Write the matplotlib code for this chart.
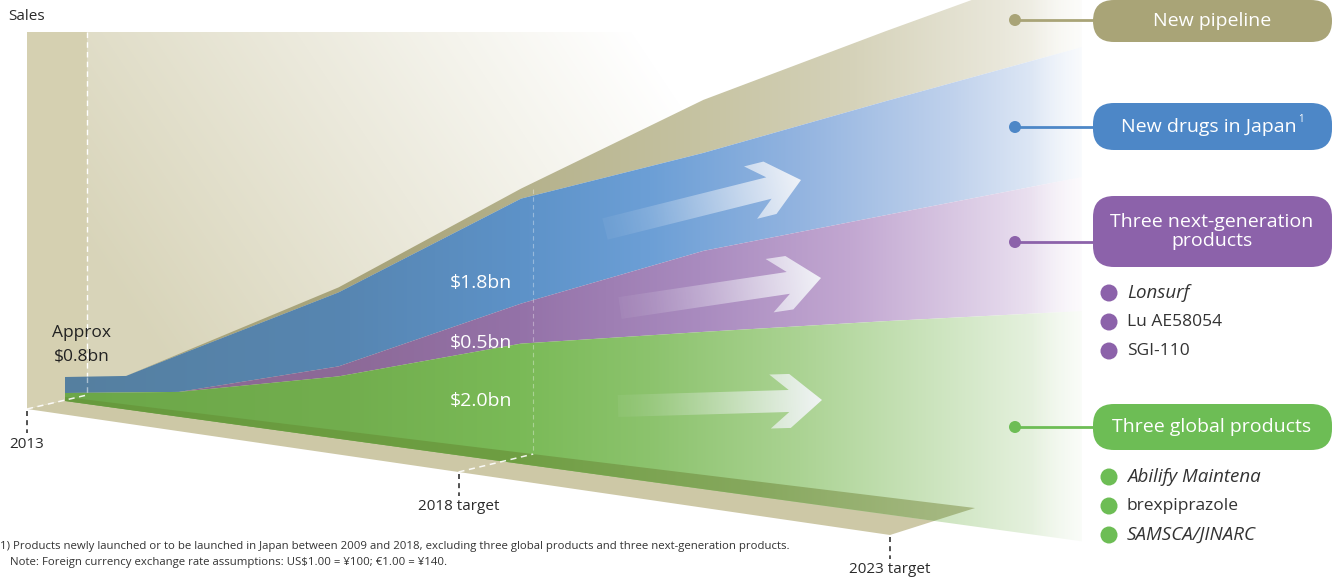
import numpy as np
import matplotlib.pyplot as plt
from matplotlib.patches import Polygon, FancyBboxPatch, Circle
from matplotlib.colors import to_rgb

plt.rcParams['font.family'] = ['Open Sans', 'DejaVu Sans']

# stacked sales layers (chart height units)
years = [2013, 2013.67, 2014.25, 2016, 2018, 2020, 2022, 2024.15]
global_products = [4, 12, 19, 54, 109, 143, 176, 210]
next_generation = [0, 0, 0, 10, 40, 81, 106, 134]
new_drugs_japan = [16, 16.5, 37, 74, 105, 98, 114, 130]
new_pipeline = [0, 0, 1, 5, 10, 53, 70, 87]

value_labels = ['$2.0bn', '$0.5bn', '$1.8bn']
axis_years = [2013, 2018, 2023]
axis_labels = ['2013', '2018 target', '2023 target']
layer_names = ['New pipeline', 'New drugs in Japan',
               'Three next-generation\nproducts', 'Three global products']
next_gen_products = ['Lonsurf', 'Lu AE58054', 'SGI-110']
global_product_names = ['Abilify Maintena', 'brexpiprazole', 'SAMSCA/JINARC']

W, H = 1337, 584
fig = plt.figure(figsize=(W / 100, H / 100), dpi=100)
ax = fig.add_axes([0, 0, 1, 1])


# perspective: stack front, floor front edge, back wall
def stack_x(yr):
    return 65 + (np.asarray(yr, float) - 2013) * 91.2


def base_y(x):
    return 397 + (np.asarray(x, float) - 65) * 0.122


def strip_y(x):
    return base_y(x) + 4 + (np.asarray(x, float) - 65) * 0.016


def front_pt(yr):
    x = 27 + (yr - 2013) * 86.3
    return x, 409 + (x - 27) * 0.146


def back_x(yr):
    return 87 + (yr - 2013) * 89.2


def ramp(stops, fade=True):
    xs = [s[0] for s in stops]
    cs = np.array([to_rgb(s[1]) for s in stops])

    def f(X, Y):
        img = np.ones(X.shape + (4,))
        for k in range(3):
            img[..., k] = np.interp(X, xs, cs[:, k])
        if fade:
            img[..., 3] = np.interp(X, [1030, 1082], [1, 0.35])
        return img
    return f


def shade(verts, fn, z):
    verts = np.asarray(verts, float)
    x0, y0 = np.floor(verts.min(0))
    x1, y1 = np.ceil(verts.max(0))
    X, Y = np.meshgrid(np.arange(x0, x1 + 1) + 0.5, np.arange(y0, y1 + 1) + 0.5)
    im = ax.imshow(fn(X, Y), extent=(x0, x1 + 1, y1 + 1, y0), origin='upper',
                   zorder=z, interpolation='bilinear', aspect='auto')
    p = Polygon(verts, closed=True, facecolor='none', edgecolor='none')
    ax.add_patch(p)
    im.set_clip_path(p)


# back wall
wall = np.array(to_rgb('#d8d4b9'))


def wall_fn(X, Y):
    img = np.ones(X.shape + (4,))
    img[..., :3] = wall
    img[..., 3] = np.clip(1.15 - ((X - 87) * 0.9 + (400 - Y) * 0.6) / 620, 0, 1)
    return img


shade([(87, 32), (1080, 32), (1080, 520), (87, 395)], wall_fn, 1)
ax.add_patch(Polygon([(27, 32), (87, 32), (87, 395), (27, 409)], closed=True,
                     facecolor='#d5d0b1', edgecolor='none', zorder=1))

# floor
f2023 = front_pt(2023)
ax.add_patch(Polygon([front_pt(2013), (87, 395), (975, 508), f2023], closed=True,
                     facecolor='#cdc8a6', edgecolor='none', zorder=2))

# stacked layers
xs = stack_x(years)
b = base_y(xs)
g_top = b - np.array(global_products)
p_top = g_top - np.array(next_generation)
bl_top = p_top - np.array(new_drugs_japan)
k_top = bl_top - np.array(new_pipeline)


def band(upper, lower):
    return list(zip(xs, upper)) + list(zip(xs[::-1], lower[::-1]))


shade(band(k_top, bl_top), ramp([(65, '#a8a47b'), (400, '#a9a57b'), (550, '#b7b48f'),
                                 (700, '#c6c3a2'), (850, '#d5d2b9'), (1000, '#e9e7da'),
                                 (1080, '#f8f8f3')]), 3)
shade(band(bl_top, p_top), ramp([(65, '#557f9f'), (350, '#5786b2'), (520, '#5d92c8'),
                                 (650, '#6c9fd6'), (800, '#93b4e0'), (950, '#bfd1ec'),
                                 (1080, '#eef3fa')]), 3)
shade(band(p_top, g_top), ramp([(65, '#8a6890'), (350, '#8d6a98'), (520, '#9472a8'),
                                (700, '#a98bbf'), (850, '#c2a7d1'), (1000, '#e2d5ea'),
                                (1080, '#f7f3f9')]), 3)
shade(band(g_top, strip_y(xs)), ramp([(65, '#6ca748'), (350, '#72ae4e'), (520, '#7aba57'),
                                      (650, '#8cc36d'), (800, '#abd393'), (950, '#d0e6c3'),
                                      (1080, '#f1f7ed')]), 3)

# dark front edge of the green layer
strip = [(65, base_y(65)), (975, base_y(975)), (934, strip_y(934)), (65, strip_y(65))]
shade(strip, ramp([(65, '#679a3d'), (500, '#6e9e42'), (750, '#86a85d'), (975, '#a9ba86')],
                  fade=False), 4)

# dashed guide lines
ax.plot([87, 87], [32, 395], color='white', lw=1, ls=(0, (4, 3)), zorder=2)
ax.plot([87, 87], [377, 395], color='white', lw=1, ls=(0, (4, 3)), alpha=0.5, zorder=5)
bx = back_x(2018)
ax.plot([bx, bx], [k_top[4], base_y(bx)], color='white', lw=0.8, ls=(0, (4, 3)),
        alpha=0.35, zorder=5)
for yr in axis_years[:2]:
    fx, fy = front_pt(yr)
    bxx = back_x(yr)
    ax.plot([fx, bxx], [fy, base_y(bxx) if yr > 2013 else 395], color='white', lw=1.1,
            ls=(0, (4, 3)), alpha=0.9, zorder=5)

# axis ticks and labels
for yr, lab in zip(axis_years, axis_labels):
    fx, fy = front_pt(yr)
    ax.plot([fx, fx], [fy + 2, fy + 24], color='#333333', lw=1.2, ls=(0, (3, 2.5)), zorder=5)
    ax.text(fx, fy + 35, lab, ha='center', va='center', fontsize=11, color='#2b2b2b')
ax.text(8, 16, 'Sales', ha='left', va='center', fontsize=11, color='#2b2b2b')
ax.text(82, 333, 'Approx', ha='center', va='center', fontsize=12.5, color='#222222')
ax.text(82, 356, '\\$0.8bn', ha='center', va='center', fontsize=12.5, color='#222222')

for lab, yy in zip(value_labels, [401, 343, 283]):
    ax.text(481, yy, lab.replace('$', '\\$'), ha='center', va='center', fontsize=14,
            color='white', zorder=6)


# translucent arrows
def arrow(tail, tip, z=6):
    tail = np.array(tail, float)
    tip = np.array(tip, float)
    d = tip - tail
    L = np.hypot(*d)
    d /= L
    n = np.array([-d[1], d[0]])
    h, Wd = 11, 27
    loc = [(0, h), (L - 33, h), (L - 52, Wd), (L - 32, Wd), (L, 0),
           (L - 32, -Wd), (L - 52, -Wd), (L - 33, -h), (0, -h)]
    verts = [tail + u * d + v * n for u, v in loc]

    def fn(X, Y):
        u = ((X - tail[0]) * d[0] + (Y - tail[1]) * d[1]) / L
        img = np.ones(X.shape + (4,))
        img[..., :3] = to_rgb('#f3f5f9')
        img[..., 3] = 0.06 + 0.9 * np.clip(u, 0, 1) ** 1.4
        return img
    shade(verts, fn, z)


arrow((605, 229), (801, 180))
arrow((620, 308), (821, 278))
arrow((618, 406), (822, 400))

ax.set_xlim(0, W)
ax.set_ylim(H, 0)

# legend boxes
box_colors = ['#a9a477', '#4d87c7', '#8c62aa', '#6dbd55']
box_tops = [0, 103, 196, 404]
box_h = [42, 47, 71, 46]
dot_y = [20, 127, 242, 427]
for name, c, y0, hh, dy in zip(layer_names, box_colors, box_tops, box_h, dot_y):
    ax.add_patch(FancyBboxPatch((1093, y0), 239, hh,
                                boxstyle='round,pad=0,rounding_size=21',
                                facecolor=c, edgecolor='none', zorder=7))
    ax.plot([1015, 1094], [dy, dy], color=c, lw=2, zorder=7)
    ax.add_patch(Circle((1015, dy), 6, facecolor=c, edgecolor='none', zorder=8))
    sup = name == 'New drugs in Japan'
    t = ax.text(1212 - (3 if sup else 0), y0 + hh / 2, name, ha='center', va='center',
                fontsize=14, color='white', linespacing=1.1, zorder=8)
    if sup:
        fig.canvas.draw()
        ext = t.get_window_extent()
        ax.text(ext.x1 + 1, y0 + hh / 2 - 7, '1', ha='left', va='center', fontsize=7,
                color='white', zorder=8)

for items, c, ys in [(next_gen_products, '#8c62aa', [293, 322, 351]),
                     (global_product_names, '#6dbd55', [477, 506, 535])]:
    for name, yy in zip(items, ys):
        ax.add_patch(Circle((1109, yy), 8.5, facecolor=c, edgecolor='none', zorder=8))
        italic = name not in ('Lu AE58054', 'SGI-110', 'brexpiprazole')
        ax.text(1127, yy, name, ha='left', va='center', fontsize=13.5 if italic else 12.5,
                color='#333333', style='italic' if italic else 'normal', zorder=8)

# footnotes
ax.text(0, 546, '1) Products newly launched or to be launched in Japan between 2009 and 2018, '
        'excluding three global products and three next-generation products.',
        ha='left', va='center', fontsize=8.2, color='#333333')
ax.text(10, 563, 'Note: Foreign currency exchange rate assumptions: US\\$1.00 = ¥100; €1.00 = ¥140.',
        ha='left', va='center', fontsize=8.2, color='#333333')

ax.axis('off')
fig.savefig('out.png', dpi=100)
